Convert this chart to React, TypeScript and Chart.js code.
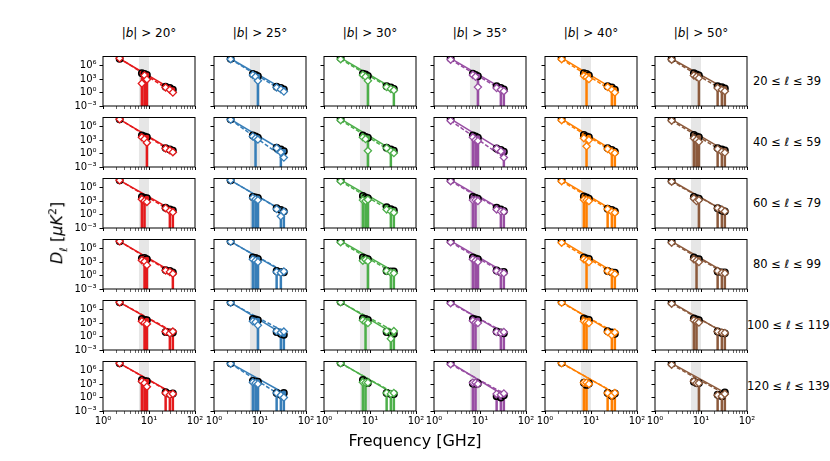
import React, { useEffect, useRef } from 'react';
import { Chart, registerables } from 'chart.js';

Chart.register(...registerables);

const FONT = '"DejaVu Sans", Verdana, sans-serif';

// frequencies of the maps, GHz
const freqs = [2.3, 7.0, 8.0, 9.0, 23, 28.4, 33];
const bandLow = 6;
const bandHigh = 10;

const latCuts = ['20', '25', '30', '35', '40', '50'];
const ellLow = ['20', '40', '60', '80', '100', '120'];
const ellHigh = ['39', '59', '79', '99', '119', '139'];
const colors = ['#e41a1c', '#377eb8', '#4daf4a', '#984ea3', '#ff7f00', '#8c5a3c'];

const xTicks = [1, 2, 3, 4, 5, 6, 7, 8, 9, 10, 20, 30, 40, 50, 60, 70, 80, 90, 100];
const xMajor = [1, 10, 100];
const xMajorLabels = ['10⁰', '10¹', '10²'];
const yTicks = [1e-3, 1, 1e3, 1e6];
const yTickLabels = ['10⁻³', '10⁰', '10³', '10⁶'];

// log10 D_ell at each frequency, black circles, one list per |b| cut
const circlesRow1 = [
  [7.5, 4.3, 4.1, 3.9, 1.3, 1.0, 0.6],
  [7.5, 4.1, 3.9, 3.6, 1.3, 1.0, 0.7],
  [7.7, 4.2, 4.0, 3.7, 1.4, 1.1, 0.8],
  [7.6, 4.2, 3.9, 3.6, 1.4, 1.0, 0.7],
  [7.7, 4.3, 4.1, 3.8, 1.4, 1.1, 0.6],
  [7.5, 4.3, 4.0, 3.8, 1.4, 1.2, 0.9],
];
const circlesRow2 = [
  [7.6, 4.0, 3.8, 3.6, 1.2, 0.9, 0.6],
  [7.6, 4.0, 3.8, 3.5, 1.3, 0.9, 0.5],
  [7.7, 4.0, 3.7, 3.5, 1.3, 0.9, 0.6],
  [7.7, 4.0, 3.8, 3.5, 1.1, 0.8, 0.4],
  [7.7, 4.1, 3.8, 3.6, 1.2, 0.8, 0.4],
  [7.6, 4.1, 3.8, 3.6, 1.2, 0.9, 0.7],
];
const circlesRow3 = [
  [7.6, 3.9, 3.7, 3.6, 1.5, 1.1, 0.9],
  [7.6, 3.9, 3.8, 3.7, 1.4, 1.0, 0.7],
  [7.7, 4.1, 3.8, 3.6, 1.6, 1.2, 0.9],
  [7.7, 3.9, 3.7, 3.5, 1.5, 1.1, 0.8],
  [7.7, 4.0, 3.8, 3.5, 1.3, 1.0, 0.7],
  [7.5, 3.9, 3.6, 3.5, 1.4, 0.9, 0.7],
];
const circlesRow4 = [
  [7.6, 3.8, 3.9, 3.6, 1.2, 1.0, 0.7],
  [7.6, 4.0, 3.9, 3.7, 1.0, 0.8, 0.7],
  [7.7, 4.0, 3.8, 3.6, 1.0, 0.9, 0.9],
  [7.7, 4.0, 3.8, 3.6, 1.1, 0.7, 0.8],
  [7.7, 4.0, 3.8, 3.7, 1.0, 0.7, 0.6],
  [7.6, 4.0, 3.6, 3.6, 0.9, 0.7, 0.7],
];
const circlesRow5 = [
  [7.6, 3.9, 3.7, 3.6, 1.0, 0.9, 0.9],
  [7.6, 3.9, 3.8, 3.6, 1.0, 0.6, 0.4],
  [7.7, 4.0, 3.9, 3.7, 1.0, 0.7, 0.6],
  [7.7, 3.9, 3.8, 3.7, 1.1, 0.9, 0.7],
  [7.7, 4.0, 3.8, 3.7, 1.2, 0.9, 0.6],
  [7.6, 4.0, 3.8, 3.6, 1.1, 0.8, 0.7],
];
const circlesRow6 = [
  [7.6, 3.9, 3.6, 3.6, 1.2, 0.8, 0.9],
  [7.6, 3.7, 3.5, 3.5, 1.0, 0.6, 1.0],
  [7.7, 3.9, 3.5, 3.2, 1.0, 0.8, 0.8],
  [7.7, 3.1, 3.1, 3.1, 0.3, 0.0, 0.5],
  [7.7, 3.3, 2.8, 3.1, 1.0, 0.4, 0.9],
  [7.6, 3.5, 3.2, 3.2, 0.6, 0.3, 1.1],
];

// log10 D_ell, open diamonds
const diamondsRow1 = [
  [7.6, 2.0, 3.8, 2.9, 1.1, 0.6, 0.0],
  [7.4, 3.9, 3.5, 2.6, 1.1, 0.7, 0.2],
  [7.4, 3.9, 3.5, 2.6, 1.2, 0.8, 0.5],
  [7.3, 3.9, 3.5, 1.2, 1.0, 0.6, 0.3],
  [7.4, 3.7, 3.4, 3.0, 1.2, 0.6, 0.0],
  [7.3, 3.8, 3.5, 3.2, 1.0, 0.6, 0.3],
];
const diamondsRow2 = [
  [7.6, 3.6, 3.2, 2.4, 1.1, 0.7, 0.3],
  [7.5, 3.8, 3.4, 3.1, 1.2, 0.3, -0.9],
  [7.4, 3.6, 3.2, 0.6, 1.2, 0.5, 0.1],
  [7.3, 3.6, 3.0, 2.8, 1.1, 0.5, -0.9],
  [7.4, 3.4, 1.6, 3.0, 1.0, 0.4, 0.1],
  [7.3, 3.4, 3.0, 2.6, 1.0, 0.4, 0.2],
];
const diamondsRow3 = [
  [7.6, 3.4, 3.0, 2.8, 1.4, 0.8, 0.5],
  [7.6, 3.7, 3.4, 3.2, 1.2, -0.4, 0.6],
  [7.4, 3.2, 3.0, 3.3, 1.1, 0.7, 0.4],
  [7.4, 3.2, 3.2, 3.0, 1.1, 0.7, 0.6],
  [7.4, 3.3, 3.2, 3.0, 1.2, 0.6, 0.4],
  [7.3, 3.6, 3.0, 3.2, 1.4, 1.1, 0.7],
];
const diamondsRow4 = [
  [7.6, 3.4, 3.1, 2.3, 1.1, 0.8, 0.4],
  [7.5, 3.6, 3.3, 3.0, 0.8, 0.6, 0.9],
  [7.4, 3.3, 3.5, 3.2, 1.0, 0.6, 0.5],
  [7.4, 3.6, 3.3, 3.0, 1.0, 0.6, 0.5],
  [7.3, 3.6, 3.3, 3.0, 1.0, 0.6, 0.3],
  [7.3, 3.6, 3.3, 3.0, 1.0, 0.6, 0.5],
];
const diamondsRow5 = [
  [7.6, 3.4, 3.0, 2.8, 1.1, 0.7, 1.1],
  [7.5, 3.4, 3.2, 2.5, 1.2, 0.9, 1.1],
  [7.6, 3.6, 3.2, 3.0, 1.2, -0.5, 1.2],
  [7.4, 3.5, 3.1, 3.0, 1.0, 0.8, 1.0],
  [7.5, 3.4, 3.2, 3.0, 1.0, 0.3, 0.9],
  [7.3, 3.6, 3.3, 3.1, 1.1, 0.9, 0.8],
];
const diamondsRow6 = [
  [7.6, 3.6, 3.2, 2.4, 1.0, 0.6, 0.8],
  [7.5, 3.4, 3.2, 3.0, 1.0, 0.5, 0.0],
  [7.6, 3.4, 3.3, 3.3, 1.0, 0.8, 1.0],
  [7.4, 3.3, 3.3, 3.0, 0.8, 0.6, 0.9],
  [7.6, 3.3, 3.3, 3.0, 1.0, 0.4, 1.0],
  [7.3, 3.6, 3.2, 3.2, 0.5, 0.3, 0.8],
];

// indices into freqs whose error bars reach below 1e-3
const barsRow1 = [[1, 2, 3], [3], [3, 6], [3, 5, 6], [2, 5, 6], [3, 4, 5, 6]];
const barsRow2 = [[3], [2, 5], [3, 5], [1, 2, 3, 6], [2, 5, 6], [1, 2, 3, 4, 5, 6]];
const barsRow3 = [[1, 2, 5, 6], [1, 2, 3, 5, 6], [1, 2, 3, 5, 6], [1, 2, 5, 6], [1, 2, 4, 5, 6], [3, 4, 5, 6]];
const barsRow4 = [[2, 3, 6], [1, 2, 3, 4, 5], [3, 5, 6], [1, 2, 3, 5, 6], [2, 5, 6], [2, 4, 5, 6]];
const barsRow5 = [[2, 3, 5, 6], [3, 5, 6], [2, 5, 6], [1, 2, 5, 6], [1, 2, 5, 6], [1, 2, 4, 5, 6]];
const barsRow6 = [[1, 2, 3, 4, 5, 6], [1, 2, 3, 4, 5, 6], [1, 2, 4, 5, 6], [1, 2, 4, 5, 6], [1, 2, 4, 5, 6], [3, 4, 5, 6]];

const circleRows = [circlesRow1, circlesRow2, circlesRow3, circlesRow4, circlesRow5, circlesRow6];
const diamondRows = [diamondsRow1, diamondsRow2, diamondsRow3, diamondsRow4, diamondsRow5, diamondsRow6];
const barRows = [barsRow1, barsRow2, barsRow3, barsRow4, barsRow5, barsRow6];

// panel geometry
const PLOT_W = 92;
const PLOT_H = 51;
const colLeft = (c: number) => Math.round(103.3 + 110.3 * c);
const rowTop = (r: number) => 55 + 61 * r;
const PAD_L = 40;
const PAD_R = 14;
const PAD_T = 4;
const PAD_B = 20;

const frame = {
  id: 'frame',
  afterDraw(chart: Chart) {
    const { ctx, chartArea } = chart;
    ctx.save();
    ctx.strokeStyle = '#000';
    ctx.lineWidth = 1;
    ctx.strokeRect(chartArea.left, chartArea.top, chartArea.right - chartArea.left, chartArea.bottom - chartArea.top);
    ctx.restore();
  },
};

const Panel: React.FC<{ row: number; col: number }> = ({ row, col }) => {
  const canvasRef = useRef<HTMLCanvasElement>(null);
  const W = PAD_L + PLOT_W + PAD_R;
  const H = PAD_T + PLOT_H + PAD_B;

  useEffect(() => {
    if (!canvasRef.current) return;
    const color = colors[col];
    const a = circleRows[row][col].map((v) => Math.pow(10, v));
    const b = diamondRows[row][col].map((v) => Math.pow(10, v));
    const last = freqs.length - 1;

    const bars: { x: number; y: number | null }[] = [];
    barRows[row][col].forEach((i) => {
      bars.push({ x: freqs[i], y: 1e-5 });
      bars.push({ x: freqs[i], y: Math.max(a[i], b[i]) });
      bars.push({ x: freqs[i], y: null });
    });

    const showX = row === 5;
    const showY = col === 0;

    const chart = new Chart(canvasRef.current, {
      type: 'scatter',
      data: {
        datasets: [
          {
            data: freqs.map((f, i) => ({ x: f, y: b[i] })),
            pointStyle: 'rectRot',
            pointRadius: 3.6,
            backgroundColor: '#ffffff',
            borderColor: color,
            borderWidth: 1.3,
            order: 1,
          },
          {
            data: freqs.map((f, i) => ({ x: f, y: a[i] })),
            pointStyle: 'circle',
            pointRadius: 3.2,
            backgroundColor: color,
            borderColor: '#000000',
            borderWidth: 1.5,
            order: 2,
          },
          {
            data: [{ x: freqs[0], y: a[0] }, { x: freqs[last], y: a[last] }],
            showLine: true,
            borderColor: color,
            borderWidth: 1.5,
            pointRadius: 0,
            order: 3,
          },
          {
            data: [{ x: freqs[0], y: b[0] }, { x: freqs[last], y: b[last] }],
            showLine: true,
            borderColor: color,
            borderWidth: 1.5,
            borderDash: [4, 2],
            pointRadius: 0,
            order: 3,
          },
          {
            data: bars,
            showLine: true,
            spanGaps: false,
            borderColor: color,
            borderWidth: 2.5,
            pointRadius: 0,
            order: 4,
          },
          {
            data: [{ x: bandLow, y: 1e8 }, { x: bandHigh, y: 1e8 }],
            showLine: true,
            fill: 'start',
            backgroundColor: '#e6e6e6',
            borderWidth: 0,
            pointRadius: 0,
            order: 5,
          },
        ],
      },
      options: {
        animation: false,
        responsive: false,
        events: [],
        layout: { padding: { top: PAD_T, right: PAD_R, left: 0, bottom: 0 } },
        plugins: {
          legend: { display: false },
          tooltip: { enabled: false },
        },
        scales: {
          x: {
            type: 'logarithmic',
            min: 1,
            max: 100,
            afterBuildTicks: (s: any) => {
              s.ticks = xTicks.map((v) => ({ value: v }));
            },
            afterFit: (s: any) => {
              s.height = PAD_B;
              s.paddingLeft = 0;
              s.paddingRight = 0;
            },
            ticks: {
              autoSkip: false,
              maxRotation: 0,
              minRotation: 0,
              padding: 1,
              color: '#000',
              font: { family: FONT, size: 10 },
              callback: (v: any) => {
                const k = xMajor.indexOf(Number(v));
                return showX && k >= 0 ? xMajorLabels[k] : '';
              },
            },
            grid: {
              drawOnChartArea: false,
              drawTicks: true,
              tickLength: 3,
              tickColor: '#000',
              tickWidth: (ctx: any) => (ctx.tick && xMajor.includes(ctx.tick.value) ? 1 : 0.6),
            },
            border: { display: false },
          },
          y: {
            type: 'logarithmic',
            min: 1e-3,
            max: 1e8,
            afterBuildTicks: (s: any) => {
              s.ticks = yTicks.map((v) => ({ value: v }));
            },
            afterFit: (s: any) => {
              s.width = PAD_L;
              s.paddingTop = 0;
              s.paddingBottom = 0;
            },
            ticks: {
              autoSkip: false,
              padding: 3,
              color: '#000',
              font: { family: FONT, size: 10 },
              callback: (v: any) => {
                const k = yTicks.indexOf(Number(v));
                return showY && k >= 0 ? yTickLabels[k] : '';
              },
            },
            grid: {
              drawOnChartArea: false,
              drawTicks: true,
              tickLength: 3.5,
              tickColor: '#000',
              tickWidth: 1,
            },
            border: { display: false },
          },
        },
      },
      plugins: [frame],
    });

    return () => {
      chart.destroy();
    };
  }, [row, col]);

  return (
    <canvas
      ref={canvasRef}
      width={W}
      height={H}
      style={{
        position: 'absolute',
        left: colLeft(col) - PAD_L,
        top: rowTop(row) - PAD_T,
        width: W,
        height: H,
      }}
    />
  );
};

const App: React.FC = () => {
  const rows = [0, 1, 2, 3, 4, 5];
  const cols = [0, 1, 2, 3, 4, 5];
  return (
    <div
      style={{
        position: 'absolute',
        left: 0,
        top: 0,
        width: 830,
        height: 461,
        background: '#fff',
        fontFamily: FONT,
        color: '#000',
        overflow: 'hidden',
      }}
    >
      {cols.map((c) => (
        <div
          key={'t' + c}
          style={{
            position: 'absolute',
            left: colLeft(c) - 10,
            width: PLOT_W + 20,
            top: 25,
            fontSize: 12,
            lineHeight: '16px',
            textAlign: 'center',
            whiteSpace: 'nowrap',
          }}
        >
          |<i>b</i>| &gt; {latCuts[c]}°
        </div>
      ))}
      {rows.map((r) => (
        <div
          key={'r' + r}
          style={{
            position: 'absolute',
            left: 747,
            width: 80,
            top: rowTop(r) + PLOT_H / 2 - 8,
            fontSize: 11.5,
            lineHeight: '16px',
            textAlign: 'center',
            whiteSpace: 'nowrap',
          }}
        >
          {ellLow[r]} ≤ <i>ℓ</i> ≤ {ellHigh[r]}
        </div>
      ))}
      {rows.map((r) => cols.map((c) => <Panel key={r + '-' + c} row={r} col={c} />))}
      <div
        style={{
          position: 'absolute',
          left: 58,
          top: 233,
          transform: 'translate(-50%, -50%) rotate(-90deg)',
          fontSize: 16,
          whiteSpace: 'nowrap',
        }}
      >
        <i>D</i>
        <sub style={{ fontSize: 11 }}>
          <i>ℓ</i>
        </sub>{' '}
        [<i>μK</i>
        <sup style={{ fontSize: 11 }}>2</sup>]
      </div>
      <div
        style={{
          position: 'absolute',
          left: 415,
          top: 440,
          transform: 'translate(-50%, -50%)',
          fontSize: 16,
          whiteSpace: 'nowrap',
        }}
      >
        Frequency [GHz]
      </div>
    </div>
  );
};

export default App;
